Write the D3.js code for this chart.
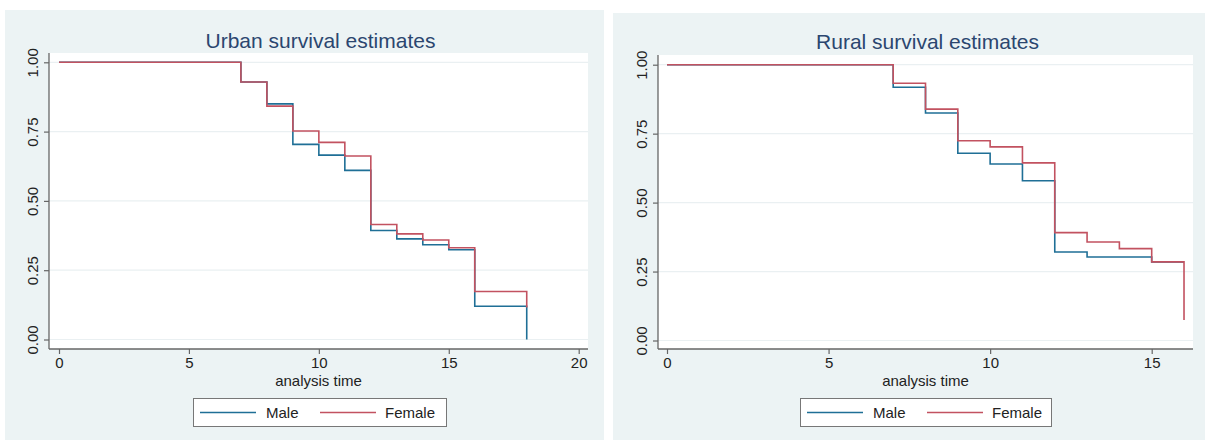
<!DOCTYPE html>
<html>
<head>
<meta charset="utf-8">
<script src="https://cdn.jsdelivr.net/npm/d3@7"></script>
<style>
  html, body { margin: 0; padding: 0; background: #ffffff; }
  svg { display: block; font-family: "Liberation Sans", Arial, sans-serif; }
</style>
</head>
<body>
<svg id="chart" width="1205" height="440"></svg>
<script>
// ---- Data ----
const seriesNames = ["Male", "Female"];
const yTicks = [0, 0.25, 0.5, 0.75, 1];
const yTickLabels = ["0.00", "0.25", "0.50", "0.75", "1.00"];

const urbanTitle = "Urban survival estimates";
const urbanXTicks = [0, 5, 10, 15, 20];
const urbanTimes  = [0, 7, 8, 9, 10, 11, 12, 13, 14, 15, 16, 18];
const urbanMale   = [1, 0.929, 0.850, 0.704, 0.665, 0.610, 0.393, 0.363, 0.342, 0.324, 0.120, 0];
const urbanFemale = [1, 0.929, 0.842, 0.752, 0.711, 0.662, 0.415, 0.381, 0.359, 0.331, 0.173, 0.115];

const ruralTitle = "Rural survival estimates";
const ruralXTicks = [0, 5, 10, 15];
const ruralTimes  = [0, 7, 8, 9, 10, 11, 12, 13, 14, 15, 16];
const ruralMale   = [1, 0.918, 0.825, 0.679, 0.640, 0.579, 0.321, 0.303, 0.303, 0.285, 0.285];
const ruralFemale = [1, 0.933, 0.839, 0.724, 0.702, 0.644, 0.391, 0.357, 0.333, 0.285, 0.074];

const xTitle = "analysis time";

// ---- Styling / layout ----
const colors = ["#1f6f96", "#c25260"];
const bg = "#ecf3f4";
const svg = d3.select("#chart");

const panels = [
  {
    title: urbanTitle, times: urbanTimes, series: [urbanMale, urbanFemale], xTicks: urbanXTicks,
    bgX: 5, bgY: 10, bgW: 599, bgH: 430,
    plotL: 49, plotR: 588, plotT: 53, plotB: 349,
    xDom: [0, 20], xRange: [59, 578.7],
    yRange: [339.5, 62.3],
    titleY: 48, legendX: 193, legendW: 253
  },
  {
    title: ruralTitle, times: ruralTimes, series: [ruralMale, ruralFemale], xTicks: ruralXTicks,
    bgX: 613, bgY: 13, bgW: 592, bgH: 427,
    plotL: 658, plotR: 1193, plotT: 55, plotB: 349,
    xDom: [0, 15], xRange: [667, 1151.7],
    yRange: [340.5, 64.7],
    titleY: 49, legendX: 800, legendW: 251
  }
];

panels.forEach(p => {
  const g = svg.append("g");
  g.append("rect").attr("x", p.bgX).attr("y", p.bgY).attr("width", p.bgW).attr("height", p.bgH).attr("fill", bg);
  g.append("rect").attr("x", p.plotL).attr("y", p.plotT).attr("width", p.plotR - p.plotL).attr("height", p.plotB - p.plotT).attr("fill", "#ffffff");

  const x = d3.scaleLinear().domain(p.xDom).range(p.xRange);
  const y = d3.scaleLinear().domain([0, 1]).range(p.yRange);

  // gridlines
  g.selectAll(".grid").data(yTicks).enter().append("line")
    .attr("x1", p.plotL).attr("x2", p.plotR)
    .attr("y1", d => y(d)).attr("y2", d => y(d))
    .attr("stroke", "#eaf0f2").attr("stroke-width", 1.2);

  // y axis
  const yAxis = d3.axisLeft(y).tickValues(yTicks).tickFormat((d, i) => yTickLabels[i]).tickSize(5).tickPadding(0);
  const ya = g.append("g").attr("transform", `translate(${p.plotL},0)`).call(yAxis);
  ya.select(".domain").attr("d", `M0,${p.plotT}V${p.plotB}`).attr("stroke", "#666").attr("stroke-width", 1.3);
  ya.selectAll(".tick line").attr("stroke", "#666").attr("stroke-width", 1.2);
  ya.selectAll(".tick text")
    .attr("x", null).attr("y", null).attr("dy", "0.35em")
    .attr("transform", "translate(-16,0) rotate(-90)")
    .attr("text-anchor", "middle")
    .attr("font-size", 15).attr("fill", "#222");

  // x axis
  const xAxis = d3.axisBottom(x).tickValues(p.xTicks).tickFormat(d3.format("d")).tickSize(5).tickPadding(3);
  const xa = g.append("g").attr("transform", `translate(0,${p.plotB})`).call(xAxis);
  xa.select(".domain").attr("d", `M${p.plotL},0H${p.plotR}`).attr("stroke", "#666").attr("stroke-width", 1.3);
  xa.selectAll(".tick line").attr("stroke", "#666").attr("stroke-width", 1.2);
  xa.selectAll(".tick text").attr("font-size", 15).attr("fill", "#222");

  // x title
  g.append("text").attr("x", (p.plotL + p.plotR) / 2).attr("y", 386).attr("text-anchor", "middle")
    .attr("font-size", 15).attr("fill", "#222").text(xTitle);

  // title
  g.append("text").attr("x", (p.plotL + p.plotR) / 2 + 2).attr("y", p.titleY).attr("text-anchor", "middle")
    .attr("font-size", 21).attr("fill", "#2b466f").text(p.title);

  // survival step lines
  const line = d3.line().x(d => x(d[0])).y(d => y(d[1])).curve(d3.curveStepAfter);
  p.series.forEach((vals, si) => {
    const pts = p.times.map((t, i) => [t, vals[i]]);
    g.append("path").datum(pts).attr("d", line)
      .attr("fill", "none").attr("stroke", colors[si]).attr("stroke-width", 1.6);
  });

  // legend
  const lg = g.append("g");
  lg.append("rect").attr("x", p.legendX + 0.5).attr("y", 398.5).attr("width", p.legendW).attr("height", 28)
    .attr("fill", "#ffffff").attr("stroke", "#777").attr("stroke-width", 1);
  const items = [
    { x0: p.legendX + 7, x1: p.legendX + 63, tx: p.legendX + 73 },
    { x0: p.legendX + 127, x1: p.legendX + 183, tx: p.legendX + 192 }
  ];
  items.forEach((it, i) => {
    lg.append("line").attr("x1", it.x0).attr("x2", it.x1).attr("y1", 412.5).attr("y2", 412.5)
      .attr("stroke", colors[i]).attr("stroke-width", 1.6);
    lg.append("text").attr("x", it.tx).attr("y", 418).attr("font-size", 15).attr("fill", "#222").text(seriesNames[i]);
  });
});
</script>
</body>
</html>
